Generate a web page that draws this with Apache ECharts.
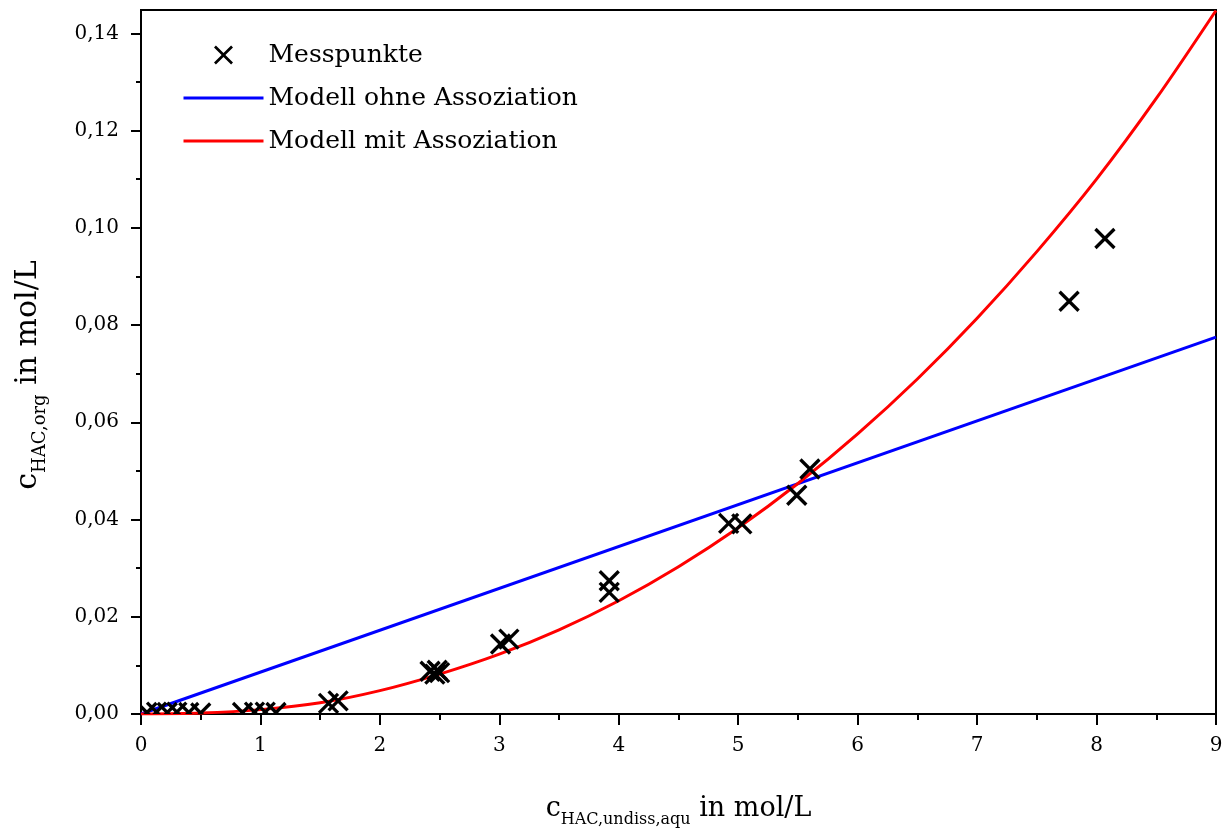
<!DOCTYPE html>
<html>
<head>
<meta charset="utf-8">
<script src="https://cdn.jsdelivr.net/npm/echarts@6/dist/echarts.min.js"></script>
<style>html,body{margin:0;padding:0;background:#fff;}#c{width:1226px;height:834px;}</style>
</head>
<body>
<div id="c"></div>
<script>
// Measurement points
const measX = [0.05, 0.13, 0.22, 0.3, 0.4, 0.5, 0.85, 0.95, 1.04, 1.13, 1.57, 1.65, 2.42, 2.46, 2.5, 2.48, 3.01, 3.08, 3.92, 3.92, 4.92, 5.03, 5.49, 5.6, 7.77, 8.07];
const measY = [0.0003, 0.0004, 0.0003, 0.0004, 0.0003, 0.0002, 0.0003, 0.0004, 0.0004, 0.0003, 0.0022, 0.0027, 0.0088, 0.0082, 0.0085, 0.0090, 0.0144, 0.0154, 0.0274, 0.0250, 0.0392, 0.0391, 0.0450, 0.0504, 0.0849, 0.0978];
// Model without association (linear)
const lineX = [0, 9];
const lineY = [0, 0.0775];
// Model with association
const curveX = [0, 0.5, 1, 1.5, 2, 2.5, 3, 3.5, 4, 4.5, 5, 5.5, 6, 6.5, 7, 7.5, 8, 8.5, 9];
const curveY = [0, 0.0002, 0.0009, 0.0023, 0.0048, 0.0082, 0.0123, 0.0173, 0.0233, 0.0303, 0.0383, 0.0474, 0.0576, 0.0689, 0.0814, 0.0951, 0.1100, 0.1266, 0.1447];
// Axis ticks
const yMajor = [0, 0.02, 0.04, 0.06, 0.08, 0.10, 0.12, 0.14];
const yMinor = [0.01, 0.03, 0.05, 0.07, 0.09, 0.11, 0.13];
const seriesNames = ['Messpunkte', 'Modell ohne Assoziation', 'Modell mit Assoziation'];

const FONT = 'DejaVu Serif';
const xIcon = 'path://M0,2L2,0L10,8L18,0L20,2L12,10L20,18L18,20L10,12L2,20L0,18L8,10Z';

const chart = echarts.init(document.getElementById('c'), null, {renderer: 'canvas'});
const zip = (a, b) => a.map((v, i) => [v, b[i]]);

chart.setOption({
  animation: false,
  backgroundColor: '#fff',
  grid: {left: 141, right: 10, top: 10, bottom: 120, show: true, borderColor: '#000', borderWidth: 2, backgroundColor: 'transparent'},
  legend: {
    orient: 'vertical', left: 182, top: 40, padding: 0,
    itemWidth: 80, itemHeight: 19, itemGap: 13,
    textStyle: {fontFamily: FONT, fontSize: 25, color: '#000', lineHeight: 30},
    data: [
      {name: seriesNames[0], icon: xIcon},
      {name: seriesNames[1], itemStyle: {opacity: 0}, lineStyle: {width: 3}},
      {name: seriesNames[2], itemStyle: {opacity: 0}, lineStyle: {width: 3}}
    ]
  },
  xAxis: {
    type: 'value', min: 0, max: 9, interval: 1,
    splitLine: {show: false},
    axisLine: {lineStyle: {color: '#000', width: 2}},
    axisTick: {length: 11, lineStyle: {color: '#000', width: 2}},
    minorTick: {show: true, splitNumber: 2, length: 6, lineStyle: {color: '#000', width: 2}},
    axisLabel: {fontFamily: FONT, fontSize: 20, color: '#000', margin: 22},
    name: '{c|c}{s|HAC,undiss,aqu}{n| in mol/L}',
    nameLocation: 'middle', nameGap: 76,
    nameTextStyle: {
      rich: {
        c: {fontFamily: FONT, fontSize: 27, color: '#000'},
        s: {fontFamily: FONT, fontSize: 16, color: '#000', padding: [22, 0, 0, 0]},
        n: {fontFamily: FONT, fontSize: 27, color: '#000'}
      }
    }
  },
  yAxis: [{
    type: 'value', min: 0, max: 0.1448,
    splitLine: {show: false},
    axisLine: {lineStyle: {color: '#000', width: 2}},
    axisTick: {length: 10, customValues: yMajor, lineStyle: {color: '#000', width: 2}},
    axisLabel: {fontFamily: FONT, fontSize: 20, color: '#000', margin: 22, customValues: yMajor,
      formatter: v => v.toFixed(2).replace('.', ',')},
    name: '{c|c}{s|HAC,org}{n| in mol/L}',
    nameLocation: 'middle', nameGap: 92,
    nameTextStyle: {
      padding: [0, 26, 0, 0],
      rich: {
        c: {fontFamily: FONT, fontSize: 30, color: '#000'},
        s: {fontFamily: FONT, fontSize: 18, color: '#000', padding: [24, 0, 0, 0]},
        n: {fontFamily: FONT, fontSize: 30, color: '#000'}
      }
    }
  }, {
    type: 'value', min: 0, max: 0.1448, position: 'left', offset: 0,
    splitLine: {show: false},
    axisLine: {show: false},
    axisLabel: {show: false},
    axisTick: {length: 5, customValues: yMinor, lineStyle: {color: '#000', width: 2}}
  }],
  series: [
    {
      name: seriesNames[0], type: 'custom', clip: true, z: 5,
      itemStyle: {color: '#000'},
      data: zip(measX, measY),
      renderItem: function (params, api) {
        const p = api.coord([api.value(0), api.value(1)]);
        const h = 9.5;
        const st = {stroke: '#000', lineWidth: 3.3, fill: null};
        return {type: 'group', children: [
          {type: 'line', shape: {x1: p[0] - h, y1: p[1] - h, x2: p[0] + h, y2: p[1] + h}, style: st},
          {type: 'line', shape: {x1: p[0] - h, y1: p[1] + h, x2: p[0] + h, y2: p[1] - h}, style: st}
        ]};
      }
    },
    {
      name: seriesNames[1], type: 'line', showSymbol: false, symbol: 'none', z: 3,
      lineStyle: {color: '#0000ff', width: 3}, itemStyle: {color: '#0000ff'},
      data: zip(lineX, lineY)
    },
    {
      name: seriesNames[2], type: 'line', showSymbol: false, symbol: 'none', smooth: 0.3, z: 4,
      lineStyle: {color: '#ff0000', width: 3}, itemStyle: {color: '#ff0000'},
      data: zip(curveX, curveY)
    }
  ]
});
</script>
</body>
</html>
